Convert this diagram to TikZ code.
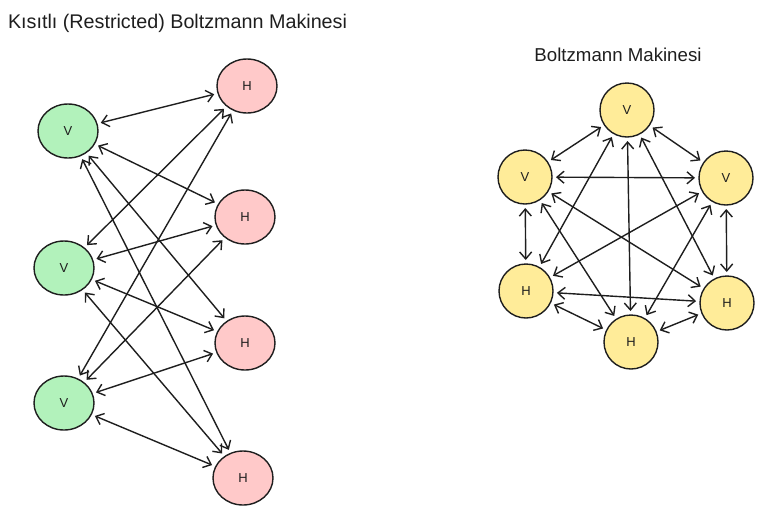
\documentclass[tikz,border=0pt]{standalone}
\usepackage{fontspec}
\setmainfont{Liberation Sans}
\usetikzlibrary{arrows.meta,shapes.geometric}
\definecolor{inkc}{HTML}{1E1E1E}
\definecolor{vgreen}{HTML}{B2F2BB}
\definecolor{hred}{HTML}{FFC9C9}
\definecolor{nyellow}{HTML}{FFEC99}
\tikzset{
  unit/.style={ellipse, draw=inkc, line width=1.4pt, minimum width=60pt, minimum height=54pt, inner sep=0pt, outer sep=4pt, font=\fontsize{13}{15}\selectfont, text=inkc},
  vis/.style={unit, fill=vgreen},
  hid/.style={unit, fill=hred},
  bm/.style={unit, fill=nyellow, minimum width=54pt, minimum height=54pt},
  link/.style={draw=inkc, line width=1.4pt, {Straight Barb[length=7pt,width=12pt]}-{Straight Barb[length=7pt,width=12pt]}},
  ttl/.style={text=inkc, inner sep=0pt}
}
\begin{document}
\begin{tikzpicture}[x=1pt,y=-1pt]
\useasboundingbox (0,0) rectangle (776,515);
% titles
\node[ttl] (t1) at (177.5,23) {\resizebox{339pt}{!}{Kısıtlı (Restricted) Boltzmann Makinesi}};
\node[ttl] (t2) at (618,55) {\resizebox{167pt}{!}{Boltzmann Makinesi}};
% RBM
\node[vis] (v1) at (68,131) {V};
\node[vis] (v2) at (64,268) {V};
\node[vis] (v3) at (64,403) {V};
\node[hid] (h1) at (247,86) {H};
\node[hid] (h2) at (245,217) {H};
\node[hid] (h3) at (245,343) {H};
\node[hid] (h4) at (243,478) {H};
\foreach \v in {v1,v2,v3}{
  \foreach \h in {h1,h2,h3,h4}{
    \draw[link] (\v) -- (\h);
  }
}
% BM
\node[bm] (tv) at (627,110) {V};
\node[bm] (lv) at (525,177) {V};
\node[bm] (rv) at (726,178) {V};
\node[bm] (lh) at (526,291) {H};
\node[bm] (rh) at (727,303) {H};
\node[bm] (bh) at (631,342) {H};
\draw[link] (tv) -- (lv);
\draw[link] (tv) -- (rv);
\draw[link] (tv) -- (lh);
\draw[link] (tv) -- (rh);
\draw[link] (tv) -- (bh);
\draw[link] (lv) -- (rv);
\draw[link] (lv) -- (lh);
\draw[link] (lv) -- (rh);
\draw[link] (lv) -- (bh);
\draw[link] (rv) -- (lh);
\draw[link] (rv) -- (rh);
\draw[link] (rv) -- (bh);
\draw[link] (lh) -- (rh);
\draw[link] (lh) -- (bh);
\draw[link] (rh) -- (bh);
\end{tikzpicture}
\end{document}
